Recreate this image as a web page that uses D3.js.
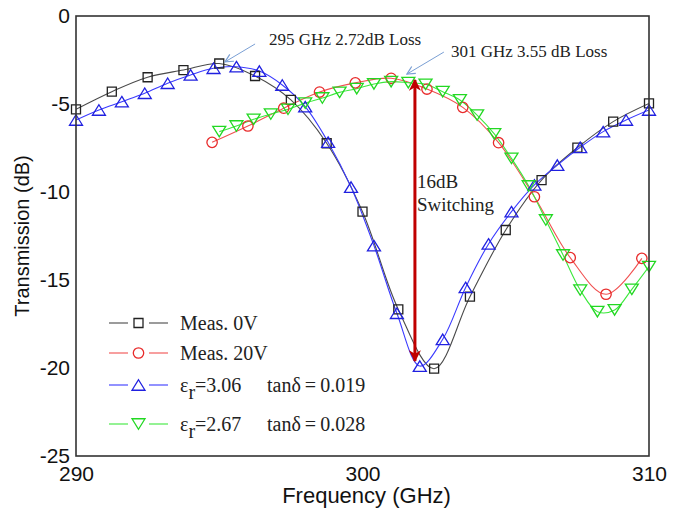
<!DOCTYPE html>
<html>
<head>
<meta charset="utf-8">
<script src="https://cdn.jsdelivr.net/npm/d3@7"></script>
<style>
  body { margin: 0; background: #fff; }
  svg { display: block; }
  .tick text { font-family: Arial, "Liberation Sans", sans-serif; font-size: 21px; fill: #111; }
</style>
</head>
<body>
<div id="chart"></div>
<script>
// Measured, 0 V bias
var meas0vFreq = [290, 291.25, 292.5, 293.75, 295, 296.25, 297.5, 298.75, 300, 301.25, 302.5, 303.75, 305, 306.25, 307.5, 308.75, 310];
var meas0vDb = [-5.30, -4.30, -3.48, -3.07, -2.70, -3.41, -4.77, -7.23, -11.12, -16.67, -20.04, -15.95, -12.16, -9.32, -7.48, -6.00, -4.97];

// Measured, 20 V bias
var meas20vFreq = [294.75, 296, 297.25, 298.5, 299.75, 301, 302.25, 303.5, 304.75, 306, 307.25, 308.5, 309.75];
var meas20vDb = [-7.18, -6.25, -5.24, -4.32, -3.80, -3.54, -4.15, -5.19, -7.20, -10.27, -13.73, -15.81, -13.77];

// Simulated, er = 3.06
var sim306Freq = [290, 290.8, 291.6, 292.4, 293.2, 294, 294.8, 295.6, 296.4, 297.2, 298, 298.8, 299.6, 300.4, 301.2, 302, 302.8, 303.6, 304.4, 305.2, 306, 306.8, 307.6, 308.4, 309.2, 310];
var sim306Db = [-5.91, -5.34, -4.87, -4.39, -3.82, -3.35, -2.97, -2.88, -3.13, -3.92, -5.15, -7.17, -9.72, -13.05, -16.89, -19.89, -18.37, -15.42, -12.95, -11.12, -9.60, -8.47, -7.46, -6.57, -5.91, -5.34];

// Simulated, er = 2.67
var sim267Freq = [295, 295.6, 296.2, 296.8, 297.4, 298, 298.6, 299.2, 299.8, 300.4, 301, 301.6, 302.2, 302.8, 303.4, 304, 304.6, 305.2, 305.8, 306.4, 307, 307.6, 308.2, 308.8, 309.4, 310];
var sim267Db = [-6.57, -6.25, -5.87, -5.57, -5.30, -4.95, -4.66, -4.34, -4.13, -3.86, -3.73, -3.79, -3.88, -4.30, -4.77, -5.63, -6.70, -8.09, -9.66, -11.59, -13.58, -15.57, -16.80, -16.70, -15.53, -14.24];

var xTicks = [290, 300, 310];
var yTicks = [0, -5, -10, -15, -20, -25];

// annotation anchors, in data units
var peakNotes = [
  { text: "295 GHz 2.72dB Loss", f: 296.74, db: -1.65, from: [296.25, -1.59], to: [295.2, -2.61] },
  { text: "301 GHz 3.55 dB Loss", f: 303.09, db: -2.33, from: [302.84, -2.05], to: [301.55, -3.30] }
];
var switchArrow = { f: 301.83, top: -3.52, bottom: -19.72 };
var switchLabel = ["16dB", "Switching"];

var SERIF = "'Times New Roman', 'Liberation Serif', serif";
var SANS = "Arial, 'Liberation Sans', sans-serif";

var width = 680, height = 510;
var margin = { left: 76, right: 31, top: 16, bottom: 54 };

var svg = d3.select("#chart").append("svg")
  .attr("width", width)
  .attr("height", height);

var x = d3.scaleLinear().domain([290, 310]).range([margin.left, width - margin.right]);
var y = d3.scaleLinear().domain([-25, 0]).range([height - margin.bottom, margin.top]);

var defs = svg.append("defs");
defs.append("clipPath").attr("id", "plotClip")
  .append("rect")
  .attr("x", x(290)).attr("y", y(0))
  .attr("width", x(310) - x(290)).attr("height", y(-25) - y(0));

defs.append("marker").attr("id", "thinHead")
  .attr("viewBox", "0 0 10 10").attr("refX", 9).attr("refY", 5)
  .attr("markerWidth", 10).attr("markerHeight", 10)
  .attr("markerUnits", "userSpaceOnUse").attr("orient", "auto")
  .append("path").attr("d", "M1,1L9,5L1,9").attr("fill", "none").attr("stroke", "#7a9fd4").attr("stroke-width", 1.2);

defs.append("marker").attr("id", "redHead")
  .attr("viewBox", "0 0 10 10").attr("refX", 9).attr("refY", 5)
  .attr("markerWidth", 14).attr("markerHeight", 12)
  .attr("markerUnits", "userSpaceOnUse").attr("orient", "auto-start-reverse")
  .append("path").attr("d", "M0,0L10,5L0,10L3,5Z").attr("fill", "#c00000");

// plain hyphen for negatives, as in the original figure
var plainNum = function(d) { return String(d); };

// axes (labels only, no tick marks)
svg.append("g")
  .attr("transform", "translate(0," + y(-25) + ")")
  .call(d3.axisBottom(x).tickValues(xTicks).tickSize(0).tickPadding(10).tickFormat(plainNum))
  .call(function(g) { g.select(".domain").remove(); });

svg.append("g")
  .attr("transform", "translate(" + x(290) + ",0)")
  .call(d3.axisLeft(y).tickValues(yTicks).tickSize(0).tickPadding(6).tickFormat(plainNum))
  .call(function(g) { g.select(".domain").remove(); });

svg.append("text")
  .attr("x", (x(290) + x(310)) / 2 + 4).attr("y", 503)
  .attr("text-anchor", "middle")
  .style("font-family", SANS).style("font-size", "22px").attr("fill", "#111")
  .text("Frequency (GHz)");

svg.append("text")
  .attr("transform", "translate(29," + (y(0) + y(-25)) / 2 + ") rotate(-90)")
  .attr("text-anchor", "middle")
  .style("font-family", SANS).style("font-size", "20px").attr("fill", "#111")
  .text("Transmission (dB)");

// marker shapes
function squarePath(s) { return "M" + (-s) + "," + (-s) + "h" + 2 * s + "v" + 2 * s + "h" + (-2 * s) + "Z"; }
function upTriPath(w, h) { return "M0," + (-h / 2) + "L" + (w / 2) + "," + (h / 2) + "L" + (-w / 2) + "," + (h / 2) + "Z"; }
function downTriPath(w, h) { return "M0," + (h / 2) + "L" + (w / 2) + "," + (-h / 2) + "L" + (-w / 2) + "," + (-h / 2) + "Z"; }
function circlePath(r) { return "M" + r + ",0A" + r + "," + r + " 0 1,1 " + (-r) + ",0A" + r + "," + r + " 0 1,1 " + r + ",0"; }

var series = [
  { name: "meas0v", freq: meas0vFreq, db: meas0vDb, line: "#4a4a4a", mark: "#222", shape: squarePath(4.5) },
  { name: "meas20v", freq: meas20vFreq, db: meas20vDb, line: "#f05050", mark: "#e82a2a", shape: circlePath(5.2) },
  { name: "sim306", freq: sim306Freq, db: sim306Db, line: "#3a3aff", mark: "#2020e0", shape: upTriPath(13, 10.5) },
  { name: "sim267", freq: sim267Freq, db: sim267Db, line: "#3ce83c", mark: "#22d822", shape: downTriPath(13, 10.5) }
];

var line = d3.line()
  .x(function(d) { return x(d[0]); })
  .y(function(d) { return y(d[1]); })
  .curve(d3.curveCatmullRom.alpha(0.5));

var plot = svg.append("g").attr("clip-path", "url(#plotClip)");

series.forEach(function(s) {
  var pts = s.freq.map(function(f, i) { return [f, s.db[i]]; });
  plot.append("path")
    .datum(pts)
    .attr("fill", "none")
    .attr("stroke", s.line)
    .attr("stroke-width", 1.1)
    .attr("d", line);
});

series.forEach(function(s) {
  var pts = s.freq.map(function(f, i) { return [f, s.db[i]]; });
  svg.append("g").selectAll("path")
    .data(pts)
    .enter().append("path")
    .attr("transform", function(d) { return "translate(" + x(d[0]) + "," + y(d[1]) + ")"; })
    .attr("d", s.shape)
    .attr("fill", "none")
    .attr("stroke", s.mark)
    .attr("stroke-width", 1.3);
});

// frame
svg.append("rect")
  .attr("x", x(290)).attr("y", y(0))
  .attr("width", x(310) - x(290)).attr("height", y(-25) - y(0))
  .attr("fill", "none").attr("stroke", "#333").attr("stroke-width", 1.6);

// peak annotations
peakNotes.forEach(function(n) {
  svg.append("line")
    .attr("x1", x(n.from[0])).attr("y1", y(n.from[1]))
    .attr("x2", x(n.to[0])).attr("y2", y(n.to[1]))
    .attr("stroke", "#7a9fd4").attr("stroke-width", 1)
    .attr("marker-end", "url(#thinHead)");
  svg.append("text")
    .attr("x", x(n.f)).attr("y", y(n.db))
    .style("font-family", SERIF).style("font-size", "17px").attr("fill", "#222")
    .text(n.text);
});

// 16 dB switching arrow
svg.append("line")
  .attr("x1", x(switchArrow.f)).attr("y1", y(switchArrow.top) + 2)
  .attr("x2", x(switchArrow.f)).attr("y2", y(switchArrow.bottom) - 2)
  .attr("stroke", "#c00000").attr("stroke-width", 3)
  .attr("marker-start", "url(#redHead)")
  .attr("marker-end", "url(#redHead)");

svg.append("text")
  .attr("x", x(switchArrow.f) + 2).attr("y", y(-9.77))
  .style("font-family", SERIF).style("font-size", "19px").attr("fill", "#222")
  .text(switchLabel[0]);
svg.append("text")
  .attr("x", x(switchArrow.f) + 2).attr("y", y(-11.08))
  .style("font-family", SERIF).style("font-size", "19px").attr("fill", "#222")
  .text(switchLabel[1]);

// legend
var legendRows = [
  { s: series[0], y: 323, label: ["Meas. 0V"] },
  { s: series[1], y: 353, label: ["Meas. 20V"] },
  { s: series[2], y: 385, label: ["3.06", "0.019"] },
  { s: series[3], y: 424, label: ["2.67", "0.028"] }
];

var legend = svg.append("g");
legendRows.forEach(function(r) {
  var g = legend.append("g").attr("transform", "translate(0," + r.y + ")");
  g.append("line").attr("x1", 109).attr("x2", 128).attr("y1", 0).attr("y2", 0).attr("stroke", r.s.line).attr("stroke-width", 1.1);
  g.append("line").attr("x1", 149).attr("x2", 168).attr("y1", 0).attr("y2", 0).attr("stroke", r.s.line).attr("stroke-width", 1.1);
  g.append("path").attr("transform", "translate(138.5,0)").attr("d", r.s.shape)
    .attr("fill", "none").attr("stroke", r.s.mark).attr("stroke-width", 1.3);

  if (r.label.length === 1) {
    g.append("text").attr("x", 180).attr("y", 7)
      .style("font-family", SERIF).style("font-size", "20px").attr("fill", "#222")
      .text(r.label[0]);
  } else {
    var t = g.append("text").attr("x", 180).attr("y", 7)
      .style("font-family", SERIF).style("font-size", "20px").attr("fill", "#222");
    t.append("tspan").text("\u03b5");
    t.append("tspan").attr("dy", 7).text("r");
    t.append("tspan").attr("dy", -7).text("=" + r.label[0]);
    g.append("text").attr("x", 267).attr("y", 7)
      .style("font-family", SERIF).style("font-size", "20px").attr("fill", "#222")
      .text("tan\u03b4\u2009=\u20090." + r.label[1].slice(2));
  }
});
</script>
</body>
</html>
